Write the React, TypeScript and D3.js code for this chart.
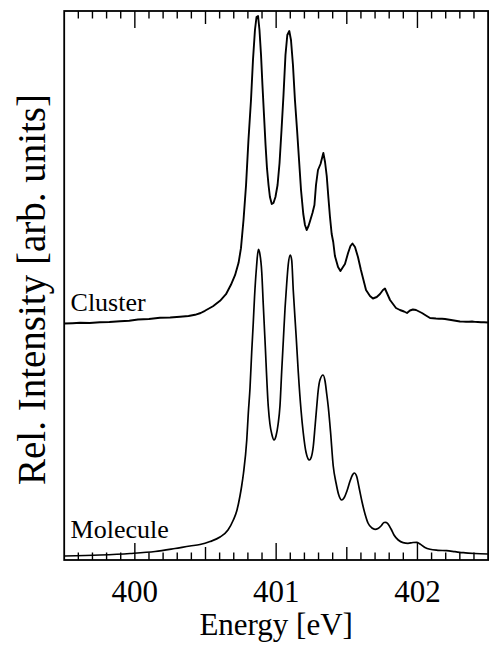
import React from "react";
import * as d3 from "d3";

// Energy axis (eV) and relative intensity (arb. units)
const clusterEnergy = [
  399.502, 399.560, 399.612, 399.680, 399.753, 399.820, 399.895, 399.960, 400.022, 400.100,
  400.178, 400.250, 400.320, 400.380, 400.426, 400.466, 400.496, 400.553,
  400.603, 400.645, 400.680, 400.709, 400.734, 400.751, 400.769, 400.787, 400.804, 400.822,
  400.836, 400.850, 400.861, 400.872, 400.882, 400.893, 400.903, 400.914, 400.925, 400.935,
  400.946, 400.956, 400.969, 400.981, 400.995, 401.010, 401.024, 401.038, 401.052, 401.066,
  401.079, 401.093, 401.105, 401.119, 401.133, 401.148, 401.162, 401.176, 401.192, 401.204,
  401.216, 401.229, 401.240, 401.257, 401.271, 401.282, 401.296, 401.314, 401.334, 401.346,
  401.358, 401.370, 401.381, 401.393, 401.404, 401.416, 401.438, 401.455, 401.473, 401.487,
  401.509, 401.526, 401.540, 401.558, 401.579, 401.600, 401.618, 401.636, 401.664, 401.685,
  401.712, 401.735, 401.756, 401.770, 401.784, 401.806, 401.827, 401.848, 401.876, 401.905,
  401.926, 401.947, 401.968, 401.990, 402.011, 402.032, 402.060, 402.089, 402.110, 402.131,
  402.152, 402.174, 402.195, 402.216, 402.238, 402.259, 402.280, 402.301, 402.322, 402.344,
  402.365, 402.386, 402.407, 402.428, 402.450, 402.471, 402.499,
];
const clusterIntensity = [
  2.365, 2.368, 2.372, 2.370, 2.378, 2.380, 2.388, 2.392, 2.405, 2.410,
  2.422, 2.425, 2.433, 2.440, 2.452, 2.470, 2.492, 2.538,
  2.592, 2.658, 2.752, 2.848, 2.972, 3.118, 3.400, 3.750, 4.200, 4.600,
  5.000, 5.300, 5.430, 5.440, 5.300, 5.050, 4.750, 4.450, 4.150, 3.920,
  3.750, 3.630, 3.560, 3.570, 3.630, 3.750, 3.970, 4.300, 4.650, 5.050,
  5.250, 5.290, 5.200, 4.950, 4.600, 4.300, 4.000, 3.700, 3.460, 3.350,
  3.300, 3.340, 3.390, 3.470, 3.550, 3.750, 3.900, 3.960, 4.070, 3.980,
  3.840, 3.620, 3.430, 3.260, 3.180, 3.040, 2.930, 2.890, 2.930, 2.960,
  3.070, 3.140, 3.165, 3.130, 3.030, 2.900, 2.800, 2.700, 2.640, 2.615,
  2.630, 2.660, 2.700, 2.715, 2.670, 2.600, 2.560, 2.520, 2.500, 2.485,
  2.470, 2.495, 2.505, 2.500, 2.485, 2.470, 2.445, 2.420, 2.418, 2.415,
  2.413, 2.412, 2.410, 2.405, 2.400, 2.395, 2.390, 2.385, 2.384, 2.382,
  2.383, 2.385, 2.381, 2.380, 2.378, 2.377, 2.375,
];

const moleculeEnergy = [
  399.502, 399.753, 399.966, 400.143, 400.284, 400.390, 400.461, 400.532, 400.603, 400.659,
  400.697, 400.721, 400.744, 400.756, 400.769, 400.792, 400.803, 400.815, 400.827, 400.838,
  400.847, 400.861, 400.874, 400.882, 400.898, 400.909, 400.921, 400.944, 400.956, 400.969,
  400.985, 400.999, 401.013, 401.027, 401.039, 401.051, 401.063, 401.075, 401.086, 401.100,
  401.110, 401.121, 401.141, 401.157, 401.176, 401.192, 401.211, 401.235, 401.249, 401.263,
  401.275, 401.287, 401.298, 401.310, 401.332, 401.346, 401.358, 401.369, 401.385, 401.404,
  401.424, 401.441, 401.464, 401.480, 401.501, 401.523, 401.540, 401.553, 401.569, 401.586,
  401.608, 401.629, 401.650, 401.678, 401.700, 401.721, 401.742, 401.763, 401.777, 401.792,
  401.813, 401.834, 401.864, 401.898, 401.933, 401.968, 401.995, 402.018, 402.053, 402.089,
  402.145, 402.207, 402.266, 402.325, 402.407, 402.499,
];
const moleculeIntensity = [
  0.040, 0.050, 0.065, 0.085, 0.115, 0.140, 0.155, 0.185, 0.230, 0.300,
  0.400, 0.490, 0.640, 0.740, 0.870, 1.200, 1.470, 1.720, 2.080, 2.370,
  2.630, 2.930, 3.107, 3.080, 2.880, 2.550, 2.200, 1.540, 1.360, 1.260,
  1.200, 1.240, 1.350, 1.540, 1.880, 2.200, 2.520, 2.770, 2.960, 3.050,
  3.000, 2.700, 2.250, 1.870, 1.500, 1.270, 1.080, 1.000, 1.030, 1.140,
  1.330, 1.530, 1.700, 1.800, 1.850, 1.790, 1.660, 1.530, 1.280, 0.940,
  0.770, 0.660, 0.600, 0.620, 0.690, 0.790, 0.850, 0.870, 0.840, 0.730,
  0.580, 0.460, 0.370, 0.320, 0.307, 0.315, 0.340, 0.375, 0.377, 0.360,
  0.310, 0.250, 0.200, 0.173, 0.167, 0.175, 0.177, 0.160, 0.125, 0.107,
  0.097, 0.093, 0.083, 0.073, 0.065, 0.060,
];

const xDomain = [399.5, 402.5];
const yDomain = [0, 5.49];
const majorTicks = [400, 401, 402];
const halfTicks = [400.5, 401.5];
const minorTicks = d3.range(3996, 4025).map((d) => d / 10);
const tickLabels = ["400", "401", "402"];
const seriesLabels = ["Cluster", "Molecule"];
const xTitle = "Energy [eV]";
const yTitle = "Rel. Intensity [arb. units]";

const W = 492;
const H = 647;
const left = 64.2;
const right = 488.1;
const top = 11;
const bottom = 560;
const FONT = "'Liberation Serif', 'Times New Roman', serif";

export default function App() {
  const x = d3.scaleLinear().domain(xDomain).range([left, right]);
  const y = d3.scaleLinear().domain(yDomain).range([bottom, top]);

  const clusterPts = clusterEnergy.map((e, i) => [e, clusterIntensity[i]] as [number, number]);
  const moleculePts = moleculeEnergy.map((e, i) => [e, moleculeIntensity[i]] as [number, number]);

  const lineLinear = d3
    .line<[number, number]>()
    .x((d) => x(d[0]))
    .y((d) => y(d[1]))
    .curve(d3.curveLinear);
  const lineSmooth = d3
    .line<[number, number]>()
    .x((d) => x(d[0]))
    .y((d) => y(d[1]))
    .curve(d3.curveMonotoneX);

  const tickLen = (v: number) => {
    if (majorTicks.some((m) => Math.abs(m - v) < 1e-6)) return 17;
    if (halfTicks.some((m) => Math.abs(m - v) < 1e-6)) return 13;
    return 7.5;
  };

  return (
    <svg
      width={W}
      height={H}
      style={{ position: "absolute", left: 0, top: 0, background: "#fff" }}
      fontFamily={FONT}
    >
      <rect x={0} y={0} width={W} height={H} fill="#fff" />
      <clipPath id="plotclip">
        <rect x={left} y={top} width={right - left} height={bottom - top} />
      </clipPath>
      <g clipPath="url(#plotclip)" fill="none" stroke="#000" strokeLinejoin="round">
        <path d={lineLinear(clusterPts) || ""} strokeWidth={1.9} />
        <path d={lineSmooth(moleculePts) || ""} strokeWidth={1.7} />
      </g>
      {/* ticks */}
      <g stroke="#000" strokeWidth={1.4}>
        {minorTicks.map((v) => (
          <g key={v}>
            <line x1={x(v)} x2={x(v)} y1={bottom} y2={bottom - tickLen(v)} />
            <line x1={x(v)} x2={x(v)} y1={top} y2={top + tickLen(v)} />
          </g>
        ))}
      </g>
      {/* frame */}
      <rect
        x={left}
        y={top}
        width={right - left}
        height={bottom - top}
        fill="none"
        stroke="#000"
        strokeWidth={1.8}
      />
      {/* tick labels */}
      <g fontSize={31} textAnchor="middle" fill="#000">
        {majorTicks.map((v, i) => (
          <text key={v} x={x(v)} y={602}>
            {tickLabels[i]}
          </text>
        ))}
      </g>
      <text x={(left + right) / 2} y={635} fontSize={31} textAnchor="middle">
        {xTitle}
      </text>
      <text
        transform={`translate(45, ${(top + bottom) / 2 + 4}) rotate(-90)`}
        fontSize={39}
        textAnchor="middle"
      >
        {yTitle}
      </text>
      <text x={x(399.545)} y={310.5} fontSize={26}>
        {seriesLabels[0]}
      </text>
      <text x={x(399.545)} y={538} fontSize={26}>
        {seriesLabels[1]}
      </text>
    </svg>
  );
}
